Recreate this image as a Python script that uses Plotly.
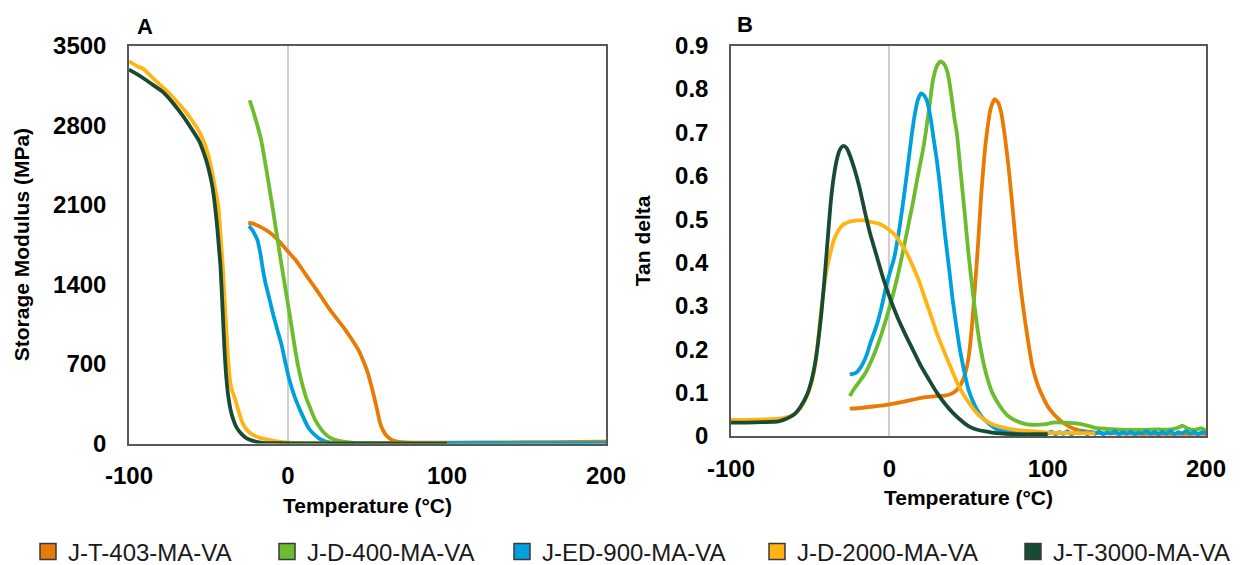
import plotly.graph_objects as go

# ---------------- data ----------------
series_names = ["J-T-403-MA-VA", "J-D-400-MA-VA", "J-ED-900-MA-VA", "J-D-2000-MA-VA", "J-T-3000-MA-VA"]
series_colors = ["#EA7A06", "#6CBD2E", "#00A0DF", "#FFB414", "#184B34"]

# Panel A: storage modulus (MPa) vs temperature (°C)
a_x_t403 = [-25, -22, -18, -14, -10, -5, 0, 5, 10, 15, 20, 25, 30, 35, 40, 44, 47, 50, 52, 54, 56, 58, 60, 62, 65, 68, 72, 78, 90, 120, 150, 180, 200]
a_y_t403 = [1940, 1935, 1910, 1880, 1840, 1770, 1690, 1610, 1510, 1410, 1310, 1205, 1110, 1020, 920, 830, 740, 630, 530, 420, 300, 175, 110, 68, 35, 18, 11, 8, 7, 9, 11, 13, 16]

a_x_d400 = [-24.1, -22, -19.5, -16.9, -13, -9.2, -4, 1.1, 4, 6.2, 9, 11.5, 13.9, 17, 21.6, 26, 31.9, 42, 60, 100, 150, 200]
a_y_d400 = [3020, 2930, 2810, 2671, 2360, 2031, 1565, 1129, 870, 692, 520, 400, 314, 210, 111, 55, 23, 5, 2, 2, 3, 4]

a_x_ed900 = [-24.6, -22.5, -20.5, -19.4, -17.5, -16, -14.3, -12, -9.2, -6.5, -4, -1.5, 1.1, 4, 6.5, 8.8, 12, 14, 16.5, 20, 24.2, 30, 40, 60, 100, 150, 200]
a_y_ed900 = [1914, 1880, 1830, 1798, 1680, 1550, 1420, 1290, 1129, 990, 867, 700, 547, 420, 330, 256, 160, 115, 81, 40, 15, 6, 4, 3, 3, 3, 4]

a_x_d2000 = [-100, -95, -91, -85, -80, -75, -70.7, -65, -60, -55.3, -52, -50, -48.9, -47, -45.5, -43.8, -42.5, -41, -39.9, -38.7, -37.4, -36.2, -35, -33.5, -31, -29, -27, -24, -20, -14.3, -8, -1.5, 5, 15, 30, 60, 100]
a_y_d2000 = [3362, 3320, 3296, 3215, 3150, 3085, 3020, 2930, 2835, 2729, 2620, 2530, 2467, 2340, 2220, 2089, 1850, 1560, 1274, 980, 692, 530, 460, 401, 280, 195, 140, 95, 62, 38, 20, 9, 5, 3, 2, 2, 2]

a_x_t3000 = [-100, -95, -90, -85, -78.4, -72, -66, -60.5, -56, -52.8, -50, -47.6, -46, -44.5, -43.3, -42.5, -41.2, -40, -38.8, -37.4, -35.5, -34, -32.3, -29, -26, -22, -18, -14.3, -5, 10, 30, 60, 100]
a_y_t3000 = [3290, 3250, 3205, 3155, 3090, 2990, 2880, 2765, 2665, 2550, 2420, 2263, 2100, 1900, 1700, 1565, 1200, 838, 580, 401, 260, 195, 140, 80, 45, 23, 10, 4, 2, 1, 1, 1, 1]

# Panel B: tan delta vs temperature (°C)
b_x_t403 = [-25, -20, -10, 0, 10, 20, 30, 35, 40, 43, 46, 48, 50, 52, 54, 56, 58, 60, 62, 64, 66.5, 68.5, 70.5, 73, 75.3, 78, 80.3, 83, 85.3, 88, 90.3, 94, 97.8, 101, 105, 110, 115, 120, 130, 140, 160, 180, 200]
b_y_t403 = [0.063, 0.064, 0.068, 0.073, 0.080, 0.088, 0.092, 0.093, 0.099, 0.108, 0.125, 0.145, 0.180, 0.245, 0.340, 0.440, 0.555, 0.645, 0.710, 0.755, 0.777, 0.770, 0.748, 0.690, 0.620, 0.520, 0.429, 0.340, 0.276, 0.210, 0.161, 0.115, 0.084, 0.063, 0.046, 0.030, 0.019, 0.013, 0.008, 0.006, 0.005, 0.005, 0.005]

b_x_d400 = [-25, -22, -19, -15, -10, -5, 0, 5, 10, 15, 18, 21, 23, 25.5, 27.5, 30, 32.2, 34.5, 37, 39, 41, 42.7, 45, 47.8, 50, 52.8, 55, 57.8, 61, 65, 70, 75, 80, 87, 95, 100, 103, 110, 118, 125, 130, 140, 150, 160, 170, 178, 183, 185, 188, 193, 197, 200]
b_y_d400 = [0.092, 0.110, 0.125, 0.146, 0.185, 0.235, 0.295, 0.365, 0.450, 0.540, 0.600, 0.655, 0.700, 0.765, 0.820, 0.853, 0.864, 0.858, 0.835, 0.790, 0.735, 0.697, 0.610, 0.506, 0.420, 0.329, 0.265, 0.199, 0.145, 0.100, 0.068, 0.046, 0.035, 0.027, 0.026, 0.028, 0.031, 0.031, 0.029, 0.024, 0.019, 0.016, 0.014, 0.014, 0.015, 0.015, 0.020, 0.024, 0.018, 0.014, 0.018, 0.012]

b_x_ed900 = [-25, -22, -20, -17, -14, -12, -8, -5, -2, 1, 3, 6, 8, 10, 12, 14, 16, 18, 20, 22, 24, 26, 28, 30, 32, 35, 38, 40, 43, 45, 48, 50, 54, 58, 63, 68, 75, 80, 90, 100, 102.5, 105, 107.5, 110, 112.5, 115, 117.5, 120, 122.5, 125, 127.5, 130, 132.5, 135, 137.5, 140, 142.5, 145, 147.5, 150, 152.5, 155, 157.5, 160, 162.5, 165, 167.5, 170, 172.5, 175, 177.5, 180, 182.5, 185, 187.5, 190, 192.5, 195, 197.5, 200]
b_y_ed900 = [0.142, 0.144, 0.149, 0.165, 0.190, 0.214, 0.255, 0.296, 0.345, 0.385, 0.410, 0.470, 0.520, 0.574, 0.632, 0.690, 0.740, 0.775, 0.790, 0.785, 0.770, 0.735, 0.685, 0.636, 0.575, 0.470, 0.378, 0.314, 0.236, 0.191, 0.137, 0.107, 0.070, 0.046, 0.028, 0.015, 0.010, 0.008, 0.007, 0.006, 0.010, 0.004, 0.009, 0.005, 0.011, 0.004, 0.008, 0.006, 0.011, 0.004, 0.009, 0.005, 0.010, 0.004, 0.008, 0.006, 0.011, 0.004, 0.009, 0.005, 0.010, 0.004, 0.008, 0.006, 0.011, 0.005, 0.009, 0.004, 0.010, 0.005, 0.012, 0.004, 0.009, 0.006, 0.012, 0.005, 0.010, 0.004, 0.009, 0.006]

b_x_d2000 = [-100, -90, -80, -70, -65, -60, -56, -52, -49, -47, -45, -43, -41, -39.9, -38, -35, -32, -29, -25, -20, -16, -12, -7, -3, 0, 4, 8, 12, 15, 19, 23, 27, 30, 34, 38, 42, 45, 50, 55, 60, 65, 70, 80, 90, 100, 115, 130]
b_y_d2000 = [0.037, 0.037, 0.038, 0.040, 0.043, 0.050, 0.065, 0.092, 0.125, 0.160, 0.222, 0.290, 0.350, 0.375, 0.410, 0.452, 0.475, 0.488, 0.494, 0.497, 0.497, 0.494, 0.490, 0.483, 0.475, 0.462, 0.440, 0.415, 0.390, 0.355, 0.312, 0.270, 0.237, 0.200, 0.165, 0.130, 0.107, 0.078, 0.054, 0.038, 0.027, 0.021, 0.014, 0.011, 0.008, 0.007, 0.006]

b_x_t3000 = [-100, -90, -80, -70, -65, -60, -56, -52, -49, -47, -45, -43, -41, -39, -37, -35, -33, -31, -29, -27, -25, -22, -19, -15, -12, -8, -4, 0, 5, 10, 15, 20, 25, 30, 35, 40, 45, 50, 55, 60, 65, 70, 80, 90, 100]
b_y_t3000 = [0.031, 0.031, 0.032, 0.034, 0.040, 0.050, 0.068, 0.095, 0.130, 0.165, 0.215, 0.280, 0.360, 0.450, 0.540, 0.600, 0.640, 0.662, 0.669, 0.664, 0.648, 0.615, 0.575, 0.510, 0.465, 0.415, 0.365, 0.322, 0.275, 0.235, 0.198, 0.161, 0.130, 0.100, 0.075, 0.054, 0.037, 0.023, 0.015, 0.011, 0.008, 0.006, 0.004, 0.004, 0.004]

panel_a = [(a_x_t403, a_y_t403), (a_x_d400, a_y_d400), (a_x_ed900, a_y_ed900), (a_x_d2000, a_y_d2000), (a_x_t3000, a_y_t3000)]
panel_b = [(b_x_t403, b_y_t403), (b_x_d400, b_y_d400), (b_x_ed900, b_y_ed900), (b_x_d2000, b_y_d2000), (b_x_t3000, b_y_t3000)]

x_ticks = [-100, 0, 100, 200]
x_tick_labels = ["-100", "0", "100", "200"]
a_y_ticks = [0, 700, 1400, 2100, 2800, 3500]
b_y_ticks = [0, 0.1, 0.2, 0.3, 0.4, 0.5, 0.6, 0.7, 0.8, 0.9]

# ---------------- figure ----------------
W, H = 1242, 565
FONT = "Liberation Sans, Arial, sans-serif"
fig = go.Figure()

for i, name in enumerate(series_names):
    xa, ya = panel_a[i]
    xb, yb = panel_b[i]
    fig.add_trace(go.Scatter(x=xa, y=ya, mode="lines",
                             line=dict(color=series_colors[i], width=3.8, shape="spline", smoothing=0.5),
                             name=name, showlegend=False, xaxis="x", yaxis="y"))
    fig.add_trace(go.Scatter(x=xb, y=yb, mode="lines",
                             line=dict(color=series_colors[i], width=3.8, shape="spline", smoothing=0.5),
                             name=name, showlegend=False, xaxis="x2", yaxis="y2"))

# legend entries (one legend per entry to reproduce spacing)
legend_left_px = [28, 267, 502, 757, 1013]
legend_keys = ["legend", "legend2", "legend3", "legend4", "legend5"]
for i, name in enumerate(series_names):
    fig.add_trace(go.Scatter(x=[None], y=[None], mode="markers", name=name,
                             marker=dict(symbol="square", size=16, color=series_colors[i],
                                         line=dict(color="#3a3a3a", width=1.5)),
                             legend=legend_keys[i], showlegend=True, xaxis="x", yaxis="y"))

axis_common = dict(showline=True, mirror=True, linecolor="#585858", linewidth=1.5,
                   showgrid=False, ticks="",
                   tickfont=dict(family=FONT, size=24, color="#000000", weight="bold"),
                   title_font=dict(family=FONT, size=21, color="#000000", weight="bold"))

def px_x(p):
    return p / W

def px_y(p):
    return 1 - p / H

layout = dict(
    width=W, height=H, margin=dict(l=0, r=0, t=0, b=0, autoexpand=False),
    paper_bgcolor="white", plot_bgcolor="white",
    xaxis=dict(domain=[px_x(129), px_x(606)], range=[-100, 200], tickvals=x_ticks, ticktext=x_tick_labels,
               ticklabelstandoff=10, zeroline=True, zerolinecolor="#cfcfcf", zerolinewidth=1.5,
               title=dict(text="Temperature (°C)", standoff=10), anchor="y", **axis_common),
    yaxis=dict(domain=[px_y(443.5), px_y(45.7)], range=[0, 3500], tickvals=a_y_ticks,
               ticklabelstandoff=16, zeroline=False,
               title=dict(text="Storage Modulus (MPa)", standoff=18), anchor="x", **axis_common),
    xaxis2=dict(domain=[px_x(731), px_x(1206)], range=[-100, 200], tickvals=x_ticks, ticktext=x_tick_labels,
                ticklabelstandoff=10, zeroline=True, zerolinecolor="#cfcfcf", zerolinewidth=1.5,
                title=dict(text="Temperature (°C)", standoff=10), anchor="y2", **axis_common),
    yaxis2=dict(domain=[px_y(436), px_y(45.7)], range=[0, 0.9], tickvals=b_y_ticks,
                ticklabelstandoff=16, zeroline=False,
                title=dict(text="Tan delta", standoff=19), anchor="x2", **axis_common),
    annotations=[
        dict(text="A", x=px_x(145), y=px_y(26), xref="paper", yref="paper", showarrow=False,
             xanchor="center", yanchor="middle",
             font=dict(family=FONT, size=22, color="#000000", weight="bold")),
        dict(text="B", x=px_x(745), y=px_y(25), xref="paper", yref="paper", showarrow=False,
             xanchor="center", yanchor="middle",
             font=dict(family=FONT, size=22, color="#000000", weight="bold")),
    ],
)
for i, key in enumerate(legend_keys):
    layout[key] = dict(x=px_x(legend_left_px[i]), y=px_y(552), xanchor="left", yanchor="middle",
                       orientation="h", bgcolor="rgba(0,0,0,0)", borderwidth=0,
                       font=dict(family=FONT, size=24, color="#1a1a1a"))

fig.update_layout(**layout)
fig.write_html("out.html")
